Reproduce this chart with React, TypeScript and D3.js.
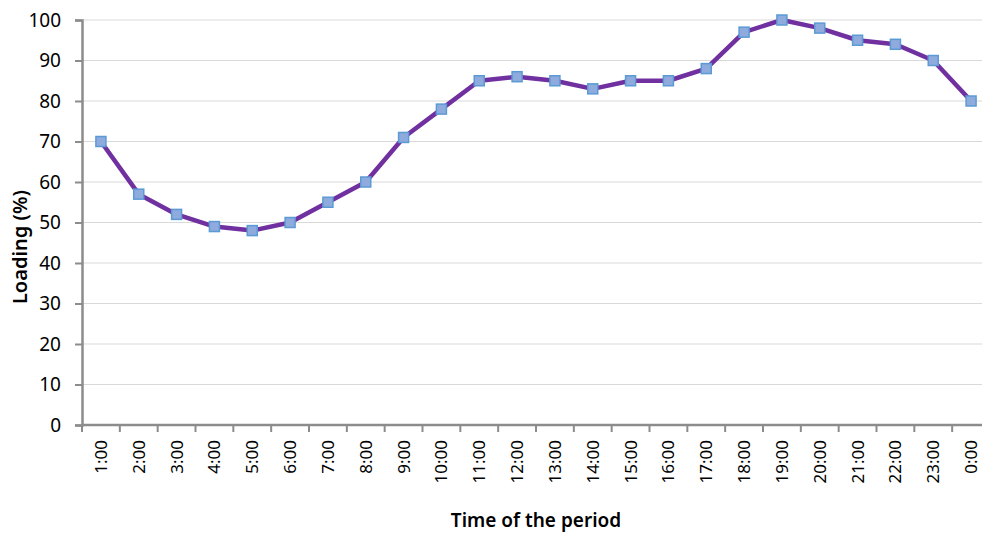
import React, { useEffect, useRef } from 'react';
import * as d3 from 'd3';

const hours = [
  '1:00', '2:00', '3:00', '4:00', '5:00', '6:00', '7:00', '8:00', '9:00', '10:00', '11:00', '12:00',
  '13:00', '14:00', '15:00', '16:00', '17:00', '18:00', '19:00', '20:00', '21:00', '22:00', '23:00', '0:00',
];
const loading = [70, 57, 52, 49, 48, 50, 55, 60, 71, 78, 85, 86, 85, 83, 85, 85, 88, 97, 100, 98, 95, 94, 90, 80];
const yTicks = [0, 10, 20, 30, 40, 50, 60, 70, 80, 90, 100];

const LoadChart = () => {
  const svgRef = useRef<SVGSVGElement>(null);

  useEffect(() => {
    const svg = d3.select(svgRef.current);
    svg.selectAll('*').remove();
    const width = 982;
    const height = 534;
    const left = 82;
    const right = 990; // plot runs past the right edge, as in the original
    const top = 20;
    const bottom = 425;
    const font = '"Noto Sans", "Open Sans", sans-serif';

    const x = d3.scaleBand<string>().domain(hours).range([left, right]);
    const y = d3.scaleLinear().domain([0, 100]).range([bottom, top]);

    // gridlines
    svg.append('g').selectAll('line').data(yTicks.filter((t) => t > 0)).join('line')
      .attr('x1', left).attr('x2', width)
      .attr('y1', (d) => y(d)).attr('y2', (d) => y(d))
      .attr('stroke', '#d9d9d9').attr('stroke-width', 1);

    // y axis
    const yAxis = svg.append('g')
      .attr('transform', `translate(${left},0)`)
      .call(d3.axisLeft(y).tickValues(yTicks).tickSize(7).tickPadding(14));
    yAxis.select('.domain').attr('stroke', '#8c8c8c').attr('stroke-width', 2.5);
    yAxis.selectAll('.tick line').attr('stroke', '#8c8c8c').attr('stroke-width', 2);
    yAxis.selectAll('text').attr('font-family', font).attr('font-size', 19).attr('fill', '#000');

    // x axis with ticks on band boundaries
    const xAxis = svg.append('g').attr('transform', `translate(0,${bottom})`);
    xAxis.append('line')
      .attr('x1', left).attr('x2', width)
      .attr('stroke', '#8c8c8c').attr('stroke-width', 2.5);
    xAxis.selectAll('.xt').data(hours).join('line')
      .attr('class', 'xt')
      .attr('x1', (d) => x(d)!).attr('x2', (d) => x(d)!)
      .attr('y1', 0).attr('y2', 7)
      .attr('stroke', '#8c8c8c').attr('stroke-width', 2);
    xAxis.selectAll('.xl').data(hours).join('text')
      .attr('class', 'xl')
      .attr('transform', (d) => `translate(${x(d)! + x.bandwidth() / 2 + 6},15) rotate(-90)`)
      .attr('text-anchor', 'end')
      .attr('font-family', font).attr('font-size', 17).attr('fill', '#000')
      .text((d) => d);

    // axis titles
    svg.append('text')
      .attr('transform', `translate(27,247) rotate(-90)`)
      .attr('text-anchor', 'middle')
      .attr('font-family', font).attr('font-size', 20).attr('font-weight', 600)
      .text('Loading (%)');
    svg.append('text')
      .attr('x', (left + right) / 2).attr('y', 527)
      .attr('text-anchor', 'middle')
      .attr('font-family', font).attr('font-size', 19).attr('font-weight', 600)
      .text('Time of the period');

    // line
    const cx = (i: number) => x(hours[i])! + x.bandwidth() / 2;
    const line = d3.line<number>().x((_, i) => cx(i)).y((d) => y(d));
    svg.append('path')
      .datum(loading)
      .attr('d', line)
      .attr('fill', 'none')
      .attr('stroke', '#7030a0')
      .attr('stroke-width', 4.5)
      .attr('stroke-linejoin', 'round');

    // square markers
    svg.append('g').selectAll('rect').data(loading).join('rect')
      .attr('x', (_, i) => cx(i) - 5)
      .attr('y', (d) => y(d) - 5)
      .attr('width', 10).attr('height', 10)
      .attr('fill', '#8faadc')
      .attr('stroke', '#5b9bd5')
      .attr('stroke-width', 1.5);

    svg.attr('width', width).attr('height', height);
  }, []);

  return <svg ref={svgRef} style={{ display: 'block' }} />;
};

export default function App() {
  return (
    <div style={{ position: 'fixed', left: 0, top: 0, width: 982, height: 534, overflow: 'hidden', background: '#fff' }}>
      <LoadChart />
    </div>
  );
}
